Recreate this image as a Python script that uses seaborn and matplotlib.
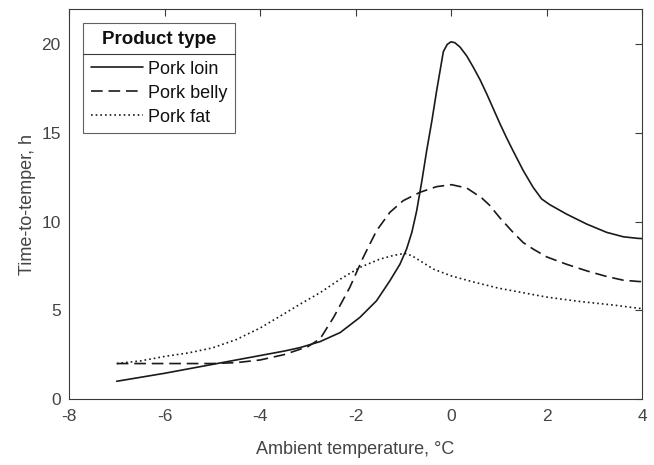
import numpy as np
import pandas as pd
import matplotlib
matplotlib.use("Agg")
import matplotlib.pyplot as plt
from matplotlib.lines import Line2D
import seaborn as sns

# ---- data ----
loin_x = [-7, -6, -5, -4, -3.5, -3.16, -2.74, -2.32, -1.91, -1.56, -1.28, -1.07, -0.93, -0.82,
          -0.72, -0.61, -0.51, -0.40, -0.30, -0.23, -0.16, -0.08, 0, 0.08, 0.19, 0.33, 0.47, 0.61,
          0.75, 0.89, 1.03, 1.17, 1.30, 1.51, 1.72, 1.90, 2.07, 2.42, 2.84, 3.26, 3.61, 3.92, 4.0]
loin_y = [1.0, 1.45, 1.95, 2.45, 2.7, 2.9, 3.24, 3.75, 4.6, 5.54, 6.67, 7.6, 8.46, 9.4,
          10.6, 12.3, 14.0, 15.7, 17.4, 18.5, 19.6, 20.0, 20.15, 20.1, 19.85, 19.35, 18.7, 18.0,
          17.2, 16.35, 15.5, 14.7, 14.0, 12.9, 11.94, 11.28, 10.96, 10.43, 9.87, 9.4, 9.15, 9.06, 9.05]

belly_x = [-7, -6, -5, -4.5, -4, -3.5, -3.0, -2.74, -2.46, -2.12, -1.84, -1.56, -1.28, -1.0,
           -0.65, -0.30, 0.01, 0.33, 0.64, 0.80, 1.03, 1.30, 1.51, 1.72, 2.0, 2.42, 2.84, 3.26,
           3.61, 3.92, 4.0]
belly_y = [2.0, 2.0, 2.0, 2.05, 2.2, 2.5, 2.95, 3.4, 4.6, 6.29, 7.98, 9.49, 10.53, 11.19,
           11.66, 11.98, 12.09, 11.9, 11.35, 10.95, 10.2, 9.4, 8.83, 8.46, 8.02, 7.6, 7.23, 6.91,
           6.7, 6.63, 6.62]

fat_x = [-7, -6.5, -6, -5.5, -5, -4.5, -4, -3.5, -3.16, -2.74, -2.32, -1.91, -1.49, -1.2, -1.0,
         -0.93, -0.8, -0.65, -0.37, 0, 0.47, 1.0, 1.5, 2.0, 2.7, 3.4, 3.92, 4.0]
fat_y = [2.0, 2.15, 2.4, 2.6, 2.88, 3.35, 4.0, 4.8, 5.35, 6.0, 6.76, 7.42, 7.89, 8.1, 8.2,
         8.2, 8.05, 7.8, 7.33, 6.95, 6.6, 6.25, 6.0, 5.75, 5.5, 5.3, 5.12, 5.1]

products = ["Pork loin", "Pork belly", "Pork fat"]
x_ticks = [-8, -6, -4, -2, 0, 2, 4]
y_ticks = [0, 5, 10, 15, 20]

df = pd.concat([
    pd.DataFrame({"T": loin_x, "t": loin_y, "Product": products[0]}),
    pd.DataFrame({"T": belly_x, "t": belly_y, "Product": products[1]}),
    pd.DataFrame({"T": fat_x, "t": fat_y, "Product": products[2]}),
], ignore_index=True)

sns.set_theme(style="white")
plt.rcParams["font.family"] = ["Liberation Sans", "DejaVu Sans"]
gray = "#3a3a3a"
lab_gray = "#444444"

fig = plt.figure(figsize=(6.54, 4.65), dpi=100)
fig.subplots_adjust(left=69/654, right=642/654, top=1-9/465, bottom=1-399/465)
ax = fig.add_subplot(111)

sns.lineplot(data=df, x="T", y="t", style="Product", style_order=products,
             dashes={"Pork loin": "", "Pork belly": (7, 3.5), "Pork fat": (1, 1.8)},
             color="#1a1a1a", linewidth=1.2, ax=ax, sort=True, estimator=None)

ax.set_xlim(-8, 4)
ax.set_ylim(0, 22)
ax.set_xticks(x_ticks)
ax.set_yticks(y_ticks)
ax.set_xticklabels([str(v) for v in x_ticks])
ax.set_yticklabels([str(v) for v in y_ticks])
ax.tick_params(direction="in", top=True, right=True, length=5, width=0.8,
               colors=gray, labelsize=12.5, pad=6)
ax.tick_params(axis="both", labelcolor=lab_gray)
ax.tick_params(axis="x", pad=7)
for s in ax.spines.values():
    s.set_color(gray)
    s.set_linewidth(0.8)
    s.set_visible(True)

ax.set_xlabel("Ambient temperature, °C", fontsize=13, color=lab_gray, labelpad=12.5)
ax.set_ylabel("Time-to-temper, h", fontsize=13, color=lab_gray, labelpad=4)

handles, labels = ax.get_legend_handles_labels()
hmap = dict(zip(labels, handles))
leg = ax.legend([hmap[p] for p in products], products, title="Product type",
                loc="upper left", bbox_to_anchor=(0.0244, 0.963), borderaxespad=0,
                fancybox=False, frameon=True, edgecolor=gray, fontsize=13,
                title_fontproperties={"weight": "bold", "size": 13.5},
                handlelength=2.9, handletextpad=0.3, labelspacing=0.39,
                borderpad=0.42)
leg.get_frame().set_linewidth(0.8)
leg._legend_box.sep = 9
for t in leg.get_texts():
    t.set_color("#111111")
leg.get_title().set_color("#111111")

fig.canvas.draw()
renderer = fig.canvas.get_renderer()
inv = fig.transFigure.inverted()
lb = leg.get_window_extent(renderer)
tb = leg.get_title().get_window_extent(renderer)
fb = leg.get_texts()[0].get_window_extent(renderer)
ysep = (tb.y0 + fb.y1) / 2
(x0, y0) = inv.transform((lb.x0, ysep))
(x1, _) = inv.transform((lb.x1, ysep))
fig.add_artist(Line2D([x0, x1], [y0, y0], color=gray, linewidth=0.8, transform=fig.transFigure))

fig.savefig("out.png", dpi=100)
